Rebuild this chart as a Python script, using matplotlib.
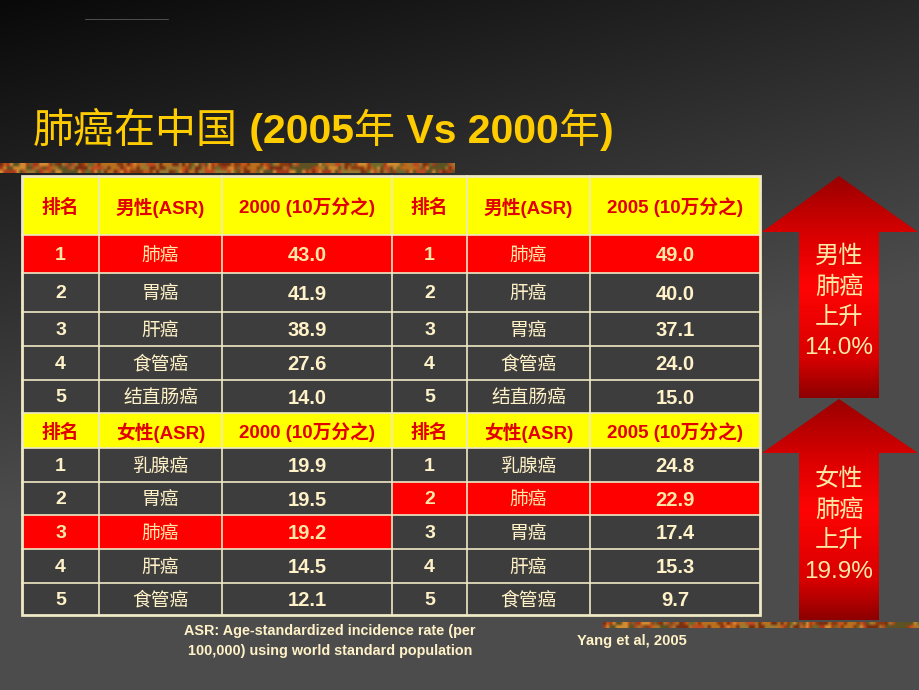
import numpy as np
import matplotlib
matplotlib.use('Agg')
import matplotlib.pyplot as plt
from matplotlib.patches import Rectangle, Polygon
from matplotlib.colors import LinearSegmentedColormap, to_rgb

FAM = ['Liberation Sans', 'Noto Sans CJK SC', 'DejaVu Sans']
plt.rcParams['font.family'] = FAM

# 数据
ranks = [1, 2, 3, 4, 5]
male_2000_sites = ['肺癌', '胃癌', '肝癌', '食管癌', '结直肠癌']
male_2000_asr = [43.0, 41.9, 38.9, 27.6, 14.0]
male_2005_sites = ['肺癌', '肝癌', '胃癌', '食管癌', '结直肠癌']
male_2005_asr = [49.0, 40.0, 37.1, 24.0, 15.0]
female_2000_sites = ['乳腺癌', '胃癌', '肺癌', '肝癌', '食管癌']
female_2000_asr = [19.9, 19.5, 19.2, 14.5, 12.1]
female_2005_sites = ['乳腺癌', '肺癌', '胃癌', '肝癌', '食管癌']
female_2005_asr = [24.8, 22.9, 17.4, 15.3, 9.7]
male_rise = '14.0%'
female_rise = '19.9%'

# 标题分段: (文字, 是否粗体)
title_parts = [('肺癌在中国', False), (' (2005', True), ('年', False),
               (' Vs 2000', True), ('年', False), (')', True)]
note = 'ASR: Age-standardized incidence rate (per\n100,000) using world standard population'
source = 'Yang et al, 2005'

W, H = 920, 690
fig = plt.figure(figsize=(W / 100, H / 100), dpi=100)
ax = fig.add_axes([0, 0, 1, 1])
ax.set_xlim(0, W)
ax.set_ylim(H, 0)
ax.axis('off')

# 背景渐变
yy, xx = np.mgrid[0:H, 0:W]
v = np.minimum(0.30, 0.035 + 0.12 * xx / W + 0.30 * yy / 580)
bg = np.dstack([v, v, v])
ax.imshow(bg, extent=(0, W, H, 0), zorder=0, aspect='auto')

# 装饰纹理条
def texture(w, h):
    pal = np.array([to_rgb(c) for c in ['#b8701e', '#8b3a0f', '#c25a1a', '#6e6a2a',
                                         '#a83a1a', '#d08a30', '#5e5222', '#c04a20',
                                         '#9a7a30', '#7a2e12']])
    ty, tx = np.mgrid[0:h, 0:w]
    s = np.sin(tx * 0.23) + np.sin(tx * 0.09 + ty * 0.7) + np.sin(tx * 0.041 + 1.3) + 0.6 * np.sin(tx * 0.53 + ty * 1.3)
    idx = ((s + 4) * 4).astype(int) % len(pal)
    return pal[idx]

ax.imshow(texture(140, 3), extent=(0, 455, 173, 163), zorder=1, aspect='auto',
          interpolation='bilinear')
ax.imshow(texture(100, 2), extent=(603, 920, 628, 622), zorder=1, aspect='auto',
          interpolation='bilinear')

# 顶部小字线
ax.plot([85, 168], [19, 19], color='#5a5a5a', lw=0.6, zorder=2)

# 标题
renderer = fig.canvas.get_renderer()
x = 33
for piece, bold in title_parts:
    t = ax.text(x, 143, piece, color='#ffcc00', fontsize=29.5,
                fontweight='bold' if bold else 'normal',
                ha='left', va='baseline', zorder=3)
    x += t.get_window_extent(renderer).width

# 表格
col_edges = [22, 99, 222, 392, 467, 590, 760]
row_edges = [176, 235, 273, 312, 346, 380, 413, 448, 482, 515, 549, 583, 615]
yellow, red, dark = '#ffff00', '#ff0000', '#3d3d3d'
head_col, txt_col, line_col = '#e00000', '#fff2c8', '#efe9c4'

def cx(c):
    return (col_edges[c] + col_edges[c + 1]) / 2

def cy(r):
    return (row_edges[r] + row_edges[r + 1]) / 2

def cell(c0, c1, r, color):
    ax.add_patch(Rectangle((col_edges[c0], row_edges[r]), col_edges[c1] - col_edges[c0],
                           row_edges[r + 1] - row_edges[r], facecolor=color,
                           edgecolor='none', zorder=2))

sections = [
    ('男性(ASR)', male_2000_sites, male_2000_asr, male_2005_sites, male_2005_asr),
    ('女性(ASR)', female_2000_sites, female_2000_asr, female_2005_sites, female_2005_asr),
]
for k, (lab, s0, a0, s1, a1) in enumerate(sections):
    hr = k * 6
    cell(0, 6, hr, yellow)
    heads = ['排名', lab, '2000 (10万分之)', '排名', lab, '2005 (10万分之)']
    for c, t in enumerate(heads):
        ax.text(cx(c), cy(hr) + 2, t, color=head_col, fontsize=13.5, fontweight='bold',
                ha='center', va='center', zorder=4)
    for i in range(5):
        r = hr + 1 + i
        for c0, sites, asr in [(0, s0, a0), (3, s1, a1)]:
            cell(c0, c0 + 3, r, red if sites[i] == '肺癌' else dark)
            col = '#ffe8a8' if sites[i] == '肺癌' else txt_col
            ax.text(cx(c0), cy(r) + 1.5, str(ranks[i]), color=col, fontsize=14, fontweight='bold',
                    ha='center', va='center', zorder=4)
            ax.text(cx(c0 + 1), cy(r) + 2, sites[i], color=col, fontsize=13.5,
                    ha='center', va='center', zorder=4)
            ax.text(cx(c0 + 2), cy(r) + 1.5, f'{asr[i]:.1f}', color=col, fontsize=14.5,
                    fontweight='bold', ha='center', va='center', zorder=4)

for y in row_edges[1:-1]:
    ax.plot([col_edges[0], col_edges[-1]], [y, y], color=line_col, lw=1.2, zorder=3)
for x in col_edges[1:-1]:
    ax.plot([x, x], [row_edges[0], row_edges[-1]], color=line_col, lw=1.2, zorder=3)
ax.add_patch(Rectangle((col_edges[0], row_edges[0]), col_edges[-1] - col_edges[0],
                       row_edges[-1] - row_edges[0], facecolor='none',
                       edgecolor=line_col, lw=2, zorder=3))

# 箭头
cmap = LinearSegmentedColormap.from_list('arr', [(0, '#9a0000'), (0.28, '#dc0000'),
                                                  (0.5, '#ff0404'), (0.82, '#d80000'),
                                                  (1, '#8e0000')])

def arrow(top, base, bottom, lines):
    xl, xr, sl, sr = 762, 918, 799, 879
    tip = (sl + sr) / 2
    pts = [(tip, top), (xr, base), (sr, base), (sr, bottom), (sl, bottom), (sl, base), (xl, base)]
    poly = Polygon(pts, closed=True, facecolor='none', edgecolor='none', zorder=2)
    ax.add_patch(poly)
    grad = np.linspace(0, 1, 200).reshape(-1, 1)
    im = ax.imshow(grad, cmap=cmap, extent=(xl, xr, bottom, top), aspect='auto', zorder=2)
    im.set_clip_path(poly)
    for j, t in enumerate(lines):
        ax.text(tip, top + 81 + j * 30.5, t, color='#ffe9a6', fontsize=17.5,
                ha='center', va='center', zorder=4)

arrow(176, 232, 398, ['男性', '肺癌', '上升', male_rise])
arrow(399, 453, 620, ['女性', '肺癌', '上升', female_rise])

# 注释
ax.text(330, 641, note, color='#fff2c8', fontsize=10.4, fontweight='bold',
        ha='center', va='center', linespacing=1.6, zorder=4)
ax.text(632, 641, source, color='#fff2c8', fontsize=10.6, fontweight='bold',
        ha='center', va='center', zorder=4)

fig.savefig('out.png', dpi=100)
